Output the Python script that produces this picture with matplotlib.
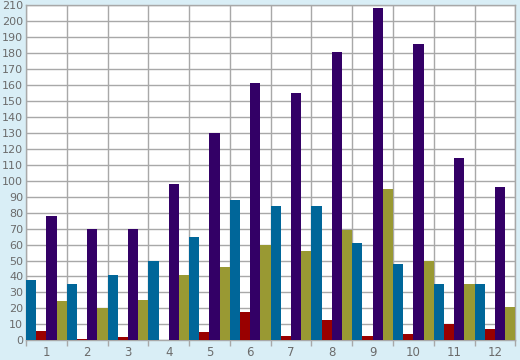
import matplotlib
matplotlib.use("Agg")
import matplotlib.pyplot as plt
import numpy as np

# categories and series values
months = ['1', '2', '3', '4', '5', '6', '7', '8', '9', '10', '11', '12']
blue_vals = [38, 35, 41, 50, 65, 88, 84, 84, 61, 48, 35, 35]
red_vals = [6, 1, 2, 0.5, 5, 18, 3, 13, 3, 4, 10, 7]
purple_vals = [78, 70, 70, 98, 130, 161, 155, 181, 208, 186, 114, 96]
olive_vals = [24.5, 20, 25, 41, 46, 60, 56, 69, 95, 50, 35, 21]

COLORS = {
    'bg': '#d9eef6',
    'grid': '#a8a8a8',
    'text': '#6b6b6b',
    'blue': '#006699',
    'red': '#990000',
    'purple': '#330066',
    'olive': '#999933',
}

fig = plt.figure(figsize=(5.2, 3.6), dpi=100, facecolor=COLORS['bg'])
ax = fig.add_axes([26 / 520, 19.7 / 360, 489.3 / 520, 335 / 360])
ax.set_facecolor('white')

x = np.arange(1, len(months) + 1)
w = 0.25
series = [(blue_vals, 'blue'), (red_vals, 'red'), (purple_vals, 'purple'), (olive_vals, 'olive')]
for k, (vals, c) in enumerate(series):
    ax.bar(x + (k - 1.5) * w, vals, width=w, color=COLORS[c], linewidth=0, zorder=3)

ax.set_xlim(0.5, 12.5)
ax.set_ylim(0, 210)
ax.set_yticks(np.arange(0, 211, 10))
ax.set_xticks(x)
ax.set_xticklabels(months)
ax.set_xticks(np.arange(0.5, 12.6, 1), minor=True)

ax.grid(True, which='major', axis='y', color=COLORS['grid'], linewidth=1, zorder=0)
ax.grid(True, which='minor', axis='x', color=COLORS['grid'], linewidth=1, zorder=0)

ax.tick_params(axis='x', which='major', length=0, pad=4, labelsize=8.5, labelcolor=COLORS['text'])
ax.tick_params(axis='x', which='minor', length=4, color=COLORS['grid'], width=1)
ax.tick_params(axis='y', which='major', length=0, pad=2, labelsize=8, labelcolor=COLORS['text'])

for s in ax.spines.values():
    s.set_color(COLORS['grid'])
    s.set_linewidth(1)

fig.savefig('out.png', dpi=100, facecolor=COLORS['bg'])
